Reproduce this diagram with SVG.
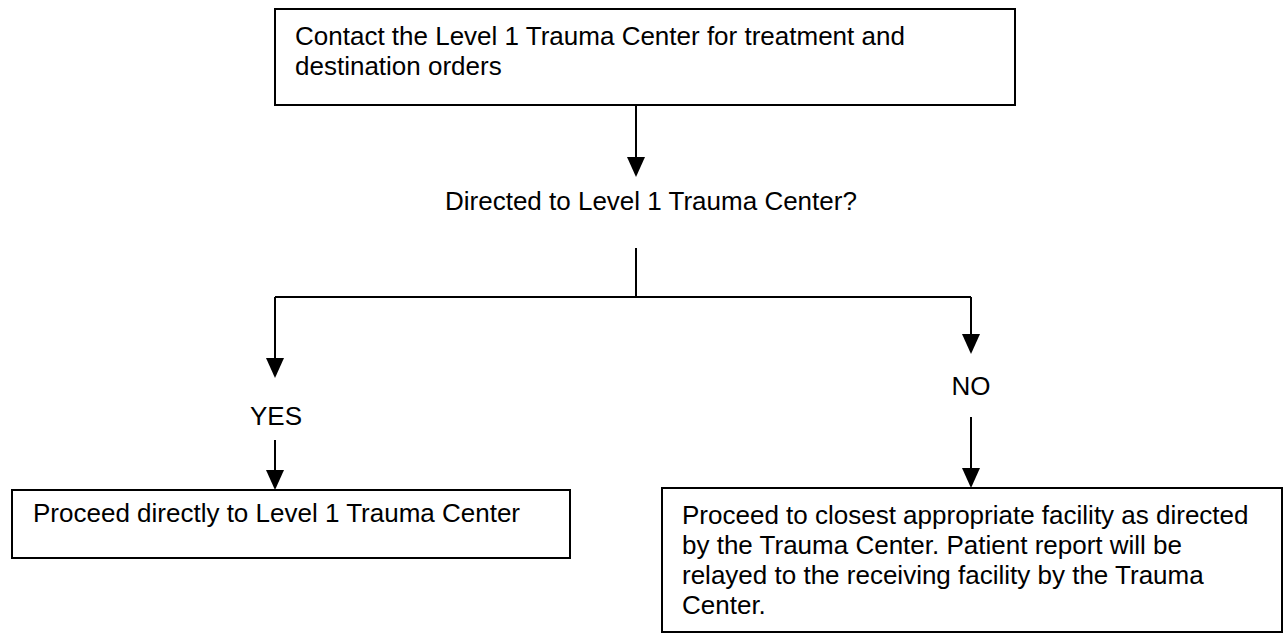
<svg xmlns="http://www.w3.org/2000/svg" width="1285" height="637" viewBox="0 0 1285 637">
<style>
.box{fill:#fff;stroke:#000;stroke-width:2}
.t{font-family:"Liberation Sans",Arial,sans-serif;font-size:26px;fill:#000}
.c{fill:none;stroke:#000;stroke-width:2}
.ah{fill:#000}
</style>
<rect width="1285" height="637" fill="#fff"/>
<g id="connectors">
<path class="c" d="M636,105 V160"/>
<path class="c" d="M636,248 V297 M275,297 H971"/>
<path class="c" d="M275,297 V360"/>
<path class="c" d="M971,297 V336"/>
<path class="c" d="M971,417 V470"/>
<path class="c" d="M275,440 V472"/>
<path class="ah" d="M627,157 L645,157 L636,177 z"/>
<path class="ah" d="M266,358 L284,358 L275,378 z"/>
<path class="ah" d="M962,334 L980,334 L971,354 z"/>
<path class="ah" d="M962,468 L980,468 L971,488 z"/>
<path class="ah" d="M266,470 L284,470 L275,490 z"/>
</g>
<g id="n1">
<rect class="box" x="275" y="9" width="740" height="96"/>
<text class="t" x="295" y="45">Contact the Level 1 Trauma Center for treatment and</text>
<text class="t" x="295" y="75">destination orders</text>
</g>
<g id="decision">
<text class="t" x="445" y="210">Directed to Level 1 Trauma Center?</text>
</g>
<g id="yes">
<text class="t" x="276" y="425" text-anchor="middle">YES</text>
</g>
<g id="no">
<text class="t" x="971" y="395" text-anchor="middle">NO</text>
</g>
<g id="n2">
<rect class="box" x="12" y="490" width="558" height="68"/>
<text class="t" x="33" y="522">Proceed directly to Level 1 Trauma Center</text>
</g>
<g id="n3">
<rect class="box" x="662" y="488" width="620" height="144"/>
<text class="t" x="682" y="524">Proceed to closest appropriate facility as directed</text>
<text class="t" x="682" y="554">by the Trauma Center. Patient report will be</text>
<text class="t" x="682" y="584">relayed to the receiving facility by the Trauma</text>
<text class="t" x="682" y="614">Center.</text>
</g>
</svg>
